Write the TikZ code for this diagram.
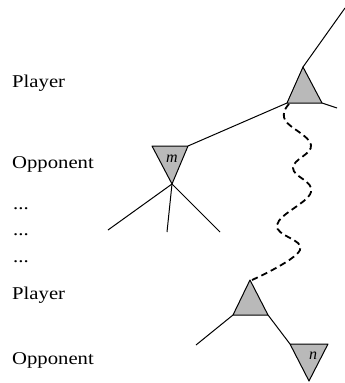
\documentclass[tikz,border=0pt]{standalone}
\usepackage{fontspec}
\setmainfont{Liberation Serif}
\newfontfamily\labfont[FakeStretch=1.15]{Liberation Serif}
\begin{document}
\begin{tikzpicture}[x=1pt,y=-1pt,
  lab/.style={anchor=base west,inner sep=0pt,font=\labfont\fontsize{18}{21}\selectfont},
  tri/.style={draw=black,line width=1pt,fill=gray!55,line join=round},
  edge/.style={draw=black,line width=1pt},
  wavy/.style={draw=black,line width=1.8pt,dash pattern=on 6.5pt off 4pt},
  trilabel/.style={inner sep=0pt,font=\itshape\fontsize{16}{16}\selectfont}]
\useasboundingbox (0,0) rectangle (345,383);
% top player triangle
\coordinate (PA) at (303,67);
\coordinate (PL) at (287,103);
\coordinate (PR) at (322,103);
\coordinate (Ptop) at (345,8);
\coordinate (Pext) at (337,108);
% m triangle
\coordinate (ML) at (152,146);
\coordinate (MR) at (188,146);
\coordinate (MB) at (172,184);
\coordinate (C1) at (108,230);
\coordinate (C2) at (167,232);
\coordinate (C3) at (220,232);
% lower player triangle
\coordinate (QA) at (250,280);
\coordinate (QL) at (233,315);
\coordinate (QR) at (268,315);
\coordinate (Qleft) at (196,345);
% n triangle
\coordinate (NL) at (290,344);
\coordinate (NR) at (328,344);
\coordinate (NB) at (309,381);

\draw[edge] (PA) -- (Ptop);
\draw[edge] (PR) -- (Pext);
\draw[edge] (PL) -- (MR);
\draw[edge] (MB) -- (C1);
\draw[edge] (MB) -- (C2);
\draw[edge] (MB) -- (C3);
\draw[edge] (QL) -- (Qleft);
\draw[edge] (QR) -- (NL);

\path[tri] (PA) -- (PL) -- (PR) -- cycle;
\path[tri] (ML) -- (MR) -- (MB) -- cycle;
\path[tri] (QA) -- (QL) -- (QR) -- cycle;
\path[tri] (NL) -- (NR) -- (NB) -- cycle;

\node[trilabel] (m) at (172,159) {m};
\node[trilabel] (n) at (313,356) {n};

\draw[wavy] plot[smooth,tension=0.7] coordinates {(289,104) (285,120) (311,145) (293,168) (311,192) (277,225) (300,250) (252,280)};

\node[lab] (p1) at (12,87) {Player};
\node[lab] (o1) at (12,168) {Opponent};
\node[lab] (d1) at (13,209) {...};
\node[lab] (d2) at (13,235) {...};
\node[lab] (d3) at (13,262) {...};
\node[lab] (p2) at (12,299) {Player};
\node[lab] (o2) at (12,364) {Opponent};
\end{tikzpicture}
\end{document}
